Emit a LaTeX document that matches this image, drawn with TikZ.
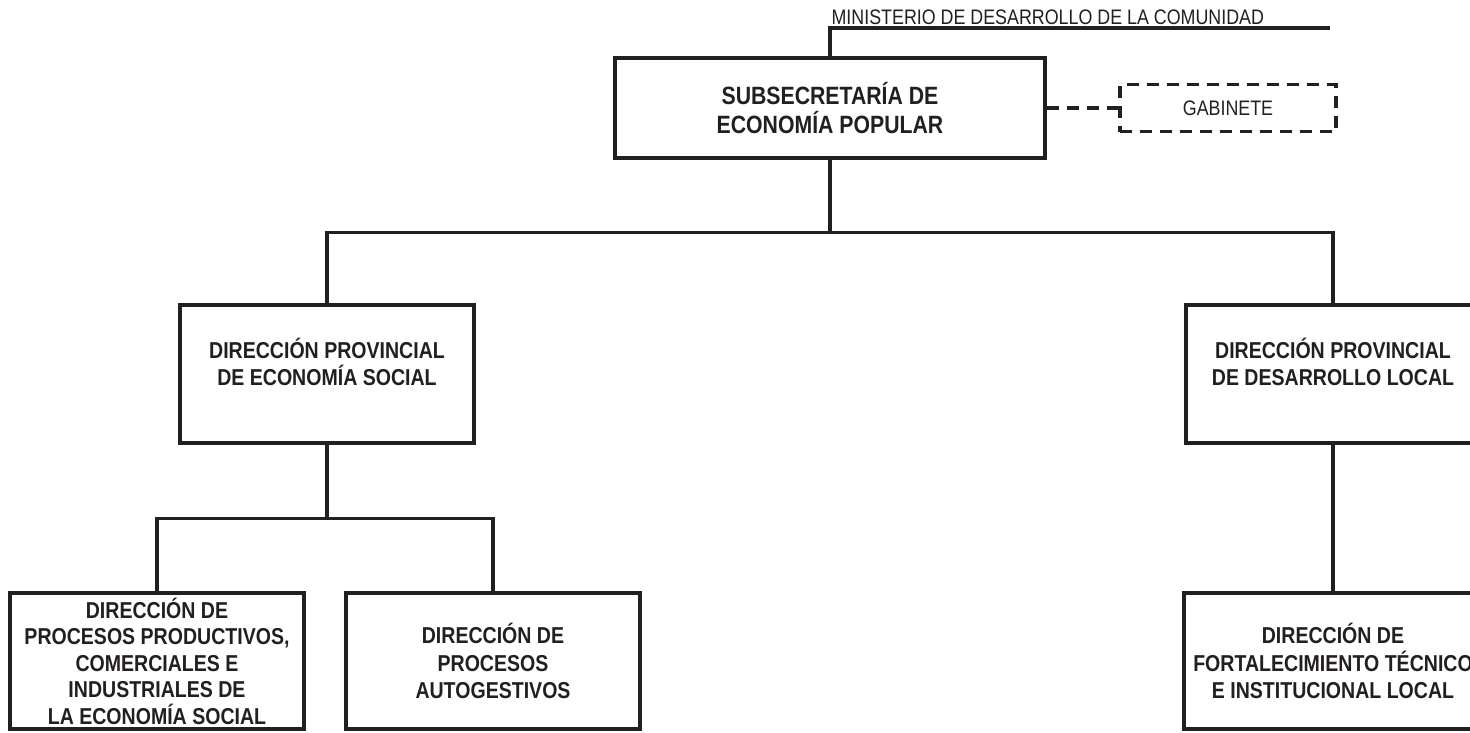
\documentclass[tikz,border=0pt]{standalone}
\usepackage{fontspec}
\setmainfont{Liberation Sans}[FakeStretch=0.85]
\definecolor{ink}{RGB}{35,31,32}
\newcommand*{\subfont}{\bfseries\fontsize{25}{29}\selectfont\color{ink}}
\newcommand*{\boxfont}{\bfseries\fontsize{23}{27.5}\selectfont\color{ink}}
\newcommand*{\tightfont}{\bfseries\fontsize{23}{26.5}\selectfont\color{ink}}
\newcommand*{\plainfont}{\fontsize{21}{23}\selectfont\color{ink}}

\begin{document}
\begin{tikzpicture}[x=1pt, y=-1pt, line width=3.2pt, draw=ink,
  unit/.style={draw=ink, line width=3.2pt, align=center, inner sep=0pt,
    font=\boxfont},
  dpbox/.style={unit, minimum width=294, minimum height=138, text depth=24pt},
  lowbox/.style={unit, minimum width=294, minimum height=136},
  gabbox/.style={draw=ink, dash pattern=on 12pt off 8pt,
    line width=3.2pt, minimum width=216, minimum height=47,
    font=\plainfont, inner sep=0pt},
  link/.style={draw=ink, line width=3.2pt},
  dashlink/.style={link, dash pattern=on 12pt off 8pt}]
  \useasboundingbox (0,0) rectangle (1470,732);

  % top
  \node[unit, font=\subfont, minimum width=430, minimum height=100]
    (sub) at (830,108) {SUBSECRETARÍA DE\\ECONOMÍA POPULAR};
  \node[gabbox] (gab) at (1228,108) {GABINETE};
  \coordinate (min) at (sub.north |- 0,28);
  \coordinate (minend) at (1330,28);
  \node[anchor=base west, inner sep=0pt, font=\plainfont]
    (ministerio) at ([yshift=4pt]min) {MINISTERIO DE DESARROLLO DE LA COMUNIDAD};
  \draw[link] (sub.north) -- (min) -- (minend);
  \draw[dashlink] (sub.east) -- (gab.west);

  % provinciales
  \node[dpbox] (dpes) at (327,374) {DIRECCIÓN PROVINCIAL\\DE ECONOMÍA SOCIAL};
  \node[dpbox] (dpdl) at (1333,374) {DIRECCIÓN PROVINCIAL\\DE DESARROLLO LOCAL};
  \draw[link] (sub.south) -- ++(0,73) coordinate (hub);
  \draw[link] (dpes.north) |- (hub) -| (dpdl.north);

  % direcciones
  \node[lowbox, font=\tightfont] (dppc) at (157,661)
    {DIRECCIÓN DE\\PROCESOS PRODUCTIVOS,\\COMERCIALES E\\INDUSTRIALES DE\\LA ECONOMÍA SOCIAL};
  \node[lowbox] (dpa) at (493,661) {DIRECCIÓN DE\\PROCESOS\\AUTOGESTIVOS};
  \node[lowbox, minimum width=298] (dfti) at (1333,661)
    {DIRECCIÓN DE\\FORTALECIMIENTO TÉCNICO\\E INSTITUCIONAL LOCAL};
  \draw[link] (dpes.south) -- ++(0,74) coordinate (hubl);
  \draw[link] (dppc.north) |- (hubl) -| (dpa.north);
  \draw[link] (dpdl.south) -- (dfti.north);
\end{tikzpicture}
\end{document}
